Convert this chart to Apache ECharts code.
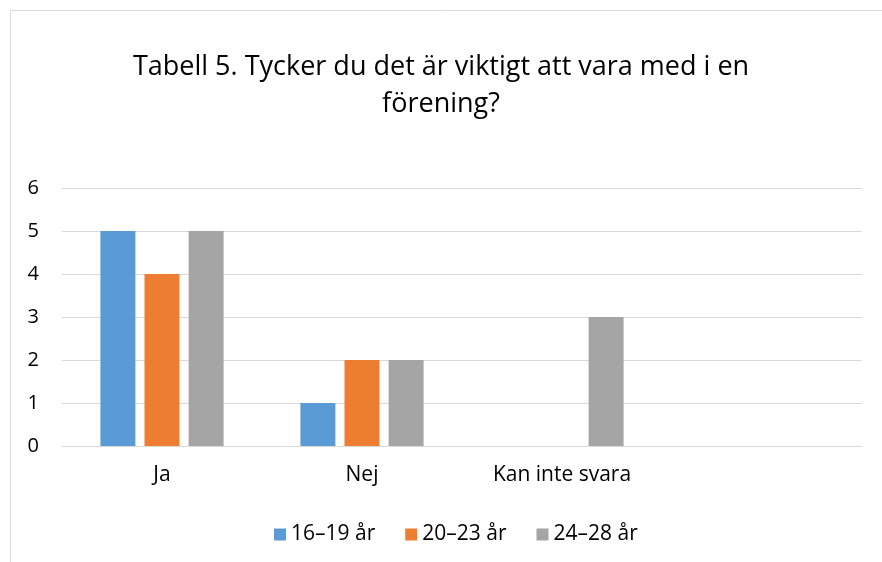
<!DOCTYPE html>
<html>
<head>
<meta charset="utf-8">
<script src="https://cdn.jsdelivr.net/npm/echarts@6/dist/echarts.min.js"></script>
<style>
  html, body { margin: 0; padding: 0; background: #fff; }
  #chart { width: 882px; height: 562px; }
</style>
</head>
<body>
<div id="chart"></div>
<script>
// data
var categories = ['Ja', 'Nej', 'Kan inte svara', ''];
var seriesNames = ['16–19 år', '20–23 år', '24–28 år'];
var age16_19 = [5, 1, null, null];
var age20_23 = [4, 2, null, null];
var age24_28 = [5, 2, 3, null];
var colors = ['#5B9BD5', '#ED7D31', '#A5A5A5'];

var chart = echarts.init(document.getElementById('chart'));
var font = "'Open Sans', 'Liberation Sans', sans-serif";

var option = {
  animation: false,
  color: colors,
  textStyle: { fontFamily: font },
  title: {
    text: 'Tabell 5. Tycker du det är viktigt att vara med i en\nförening?',
    left: 'center',
    top: 44,
    textStyle: { fontFamily: font, fontSize: 27, fontWeight: 'normal', color: '#000', lineHeight: 37 }
  },
  graphic: [{
    type: 'rect',
    shape: { x: 10.5, y: 10.5, width: 900, height: 600 },
    style: { fill: null, stroke: '#d9d9d9', lineWidth: 1 },
    silent: true
  }],
  legend: {
    bottom: 12,
    left: 269,
    itemWidth: 12,
    itemHeight: 12,
    itemGap: 30,
    icon: 'rect',
    textStyle: { fontFamily: font, fontSize: 21, color: '#000' },
    data: seriesNames
  },
  grid: { left: 62, right: 20, top: 188, bottom: 116, containLabel: false },
  xAxis: {
    type: 'category',
    data: categories,
    axisLine: { show: true, lineStyle: { color: '#d9d9d9' } },
    axisTick: { show: false },
    axisLabel: { color: '#000', fontSize: 21, fontFamily: font, margin: 19 }
  },
  yAxis: {
    type: 'value',
    min: 0,
    max: 6,
    interval: 1,
    axisLine: { show: false },
    axisTick: { show: false },
    axisLabel: { color: '#000', fontSize: 20, fontFamily: font, margin: 23 },
    splitLine: { lineStyle: { color: '#d9d9d9', width: 1 } }
  },
  series: [
    { name: seriesNames[0], type: 'bar', data: age16_19, barWidth: 35, barGap: '26%' },
    { name: seriesNames[1], type: 'bar', data: age20_23, barWidth: 35, barGap: '26%' },
    { name: seriesNames[2], type: 'bar', data: age24_28, barWidth: 35, barGap: '26%' }
  ]
};

chart.setOption(option);
</script>
</body>
</html>
